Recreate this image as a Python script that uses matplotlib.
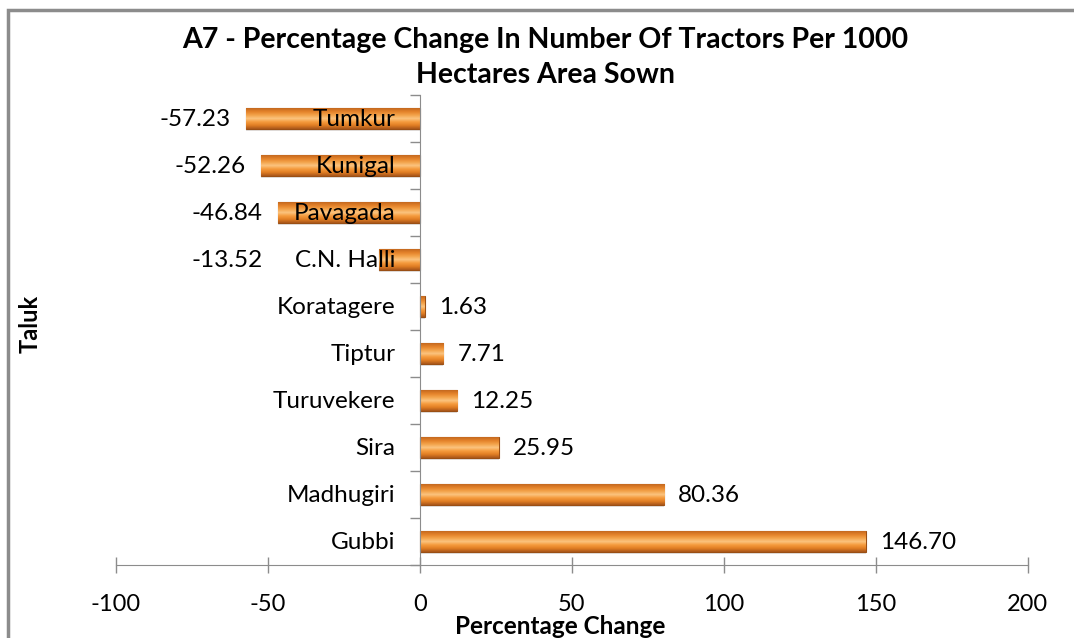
import matplotlib.pyplot as plt
import numpy as np
from matplotlib.colors import LinearSegmentedColormap
from matplotlib.patches import Rectangle

# Data (bottom to top)
taluks = ['Gubbi', 'Madhugiri', 'Sira', 'Turuvekere', 'Tiptur',
          'Koratagere', 'C.N. Halli', 'Pavagada', 'Kunigal', 'Tumkur']
pct_change = [146.70, 80.36, 25.95, 12.25, 7.71, 1.63, -13.52, -46.84, -52.26, -57.23]
x_ticks = [-100, -50, 0, 50, 100, 150, 200]

plt.rcParams['font.family'] = ['Lato', 'DejaVu Sans']

fig = plt.figure(figsize=(10.74, 6.38), dpi=100)
ax = fig.add_axes([0.108, 0.1144, 0.849, 0.7367])

# outer chart frame
fig.patches.append(Rectangle((8 / 1074, -0.05), 1.2, 628 / 638 + 0.05,
                             transform=fig.transFigure, fill=False,
                             edgecolor='#8c8c8c', linewidth=2.5))

ypos = np.arange(len(taluks))
bars = ax.barh(ypos, pct_change, height=0.44, color='#ED8B2C',
               edgecolor='#9A4F14', linewidth=0.8, zorder=2)

# bevelled orange look: vertical gradient clipped to each bar
grad_cmap = LinearSegmentedColormap.from_list(
    'bevel', ['#A9561A', '#E07E24', '#F59A3C', '#FBC47F', '#F3A24A', '#E4832A', '#C4691F'])
grad = np.linspace(0, 1, 64).reshape(-1, 1)
for b in bars:
    x0, y0, w, h = b.get_x(), b.get_y(), b.get_width(), b.get_height()
    im = ax.imshow(grad, cmap=grad_cmap, aspect='auto', origin='lower',
                   extent=[min(x0, x0 + w), max(x0, x0 + w), y0, y0 + h], zorder=2.5)
    im.set_clip_path(b)
    # shadow under the bar
    ax.add_patch(Rectangle((x0, y0 - 0.05), w, 0.05, color='#cfcfcf', alpha=0.6,
                           zorder=1.5, linewidth=0))

# value labels
for y, v in zip(ypos, pct_change):
    if v >= 0:
        ax.annotate(f'{v:.2f}', (v, y), xytext=(10, -1), textcoords='offset points',
                    ha='left', va='center', fontsize=17.5, zorder=4)
    else:
        ax.annotate(f'{v:.2f}', (min(v, -46.84), y), xytext=(-11, -1),
                    textcoords='offset points', ha='right', va='center',
                    fontsize=17.5, zorder=4)

ax.set_xlim(-100, 200)
ax.set_ylim(-0.5, len(taluks) - 0.5)
ax.set_xticks(x_ticks)
ax.set_xticklabels([str(t) for t in x_ticks], fontsize=17)
ax.tick_params(axis='x', direction='inout', length=12, width=1, color='#8c8c8c', pad=15)

# category names sit at the zero line
ax.set_yticks(np.arange(len(taluks) + 1) - 0.5)
ax.set_yticklabels([])
ax.tick_params(axis='y', direction='out', length=7, width=1, color='#8c8c8c')
for y, name in zip(ypos, taluks):
    ax.text(-8, y - 0.02, name, ha='right', va='center', fontsize=17.5, zorder=5)

for s in ['top', 'right']:
    ax.spines[s].set_visible(False)
ax.spines['bottom'].set_color('#8c8c8c')
ax.spines['bottom'].set_zorder(0)
ax.spines['left'].set_position(('data', 0))
ax.spines['left'].set_color('#8c8c8c')
ax.spines['left'].set_zorder(3)
ax.spines['left'].set_bounds(-0.5, len(taluks) - 0.5)

ax.set_xlabel('Percentage Change', fontsize=17.5, fontweight='bold')
ax.xaxis.label.set_va('center')
ax.xaxis.set_label_coords(0.487, -0.130)
fig.text(0.028, 0.493, 'Taluk', rotation=90, ha='center', va='center',
         fontsize=17, fontweight='bold')
fig.text(0.508, 0.910, 'A7 - Percentage Change In Number Of Tractors Per 1000\nHectares Area Sown',
         ha='center', va='center', fontsize=20.5, fontweight='bold', linespacing=1.4)

fig.savefig('out.png', dpi=100)
